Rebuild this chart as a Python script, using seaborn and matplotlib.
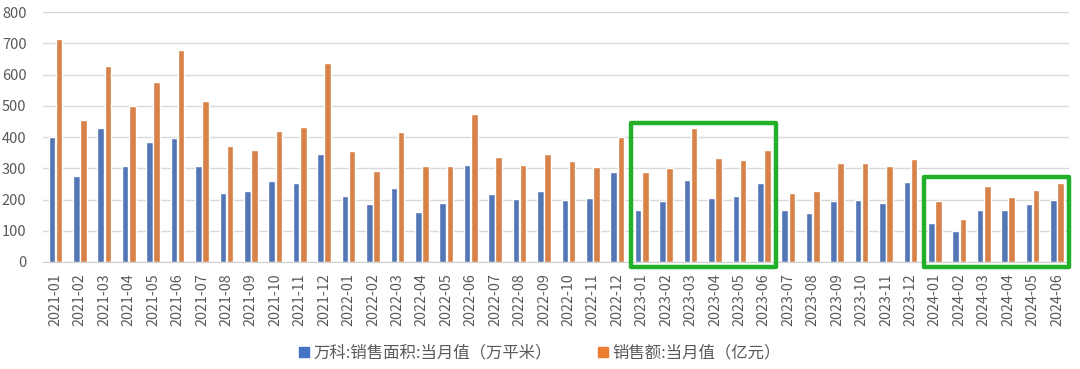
import pandas as pd
import matplotlib.pyplot as plt
import seaborn as sns
from matplotlib.patches import Rectangle
from matplotlib.ticker import FixedLocator

# months 2021-01 .. 2024-06
months = [f"{y}-{m:02d}" for y in (2021, 2022, 2023) for m in range(1, 13)] + \
         [f"2024-{m:02d}" for m in range(1, 7)]

# 万科 monthly sales area (万平米)
area = [400, 275, 430, 308, 383, 396, 308, 220, 228, 258, 252, 347,
        211, 185, 238, 159, 188, 311, 217, 202, 226, 197, 205, 287,
        167, 194, 263, 205, 212, 252, 167, 156, 194, 200, 190, 255,
        124, 98, 165, 165, 185, 197]

# monthly sales amount (亿元)
amount = [715, 454, 628, 499, 576, 678, 515, 371, 360, 418, 432, 638,
          357, 292, 415, 308, 308, 473, 337, 311, 347, 322, 305, 399,
          287, 302, 428, 334, 328, 360, 220, 226, 318, 318, 308, 330,
          194, 138, 243, 208, 231, 252]

label_area = "万科:销售面积:当月值（万平米）"
label_amount = "销售额:当月值（亿元）"

df = pd.DataFrame({
    "month": months * 2,
    "value": area + amount,
    "series": [label_area] * len(months) + [label_amount] * len(months),
})

sns.set_style("white")
plt.rcParams["font.family"] = ["Noto Sans CJK SC", "DejaVu Sans"]

fig = plt.figure(figsize=(10.8, 3.69), dpi=100)
ax = fig.add_axes([0.040, 0.290, 0.950, 0.677])

sns.barplot(data=df, x="month", y="value", hue="series",
            palette=["#4472C4", "#ED7D31"], width=0.58, gap=0.08,
            ax=ax, legend=False)

ax.set_ylim(0, 800)
ax.set_xlim(-0.5, len(months) - 0.5)
ax.set_yticks(range(0, 801, 100))
ax.yaxis.grid(True, color="#d9d9d9", linewidth=1)
ax.set_axisbelow(True)
ax.set_xlabel("")
ax.set_ylabel("")

for s in ["top", "right", "left"]:
    ax.spines[s].set_visible(False)
ax.spines["bottom"].set_color("#d0d0d0")

ax.tick_params(axis="y", length=0, labelsize=10.5, colors="#595959", pad=12)
ax.tick_params(axis="x", which="major", length=0, labelsize=10.3,
               colors="#595959", rotation=90, pad=8)
ax.xaxis.set_minor_locator(FixedLocator([i - 0.5 for i in range(len(months) + 1)]))
ax.tick_params(axis="x", which="minor", length=5, color="#d0d0d0")

# green highlight boxes
green = "#22B02A"
for x0, x1, top in [(23.57, 29.5, 445), (35.56, 41.5, 271)]:
    ax.add_patch(Rectangle((x0, -16), x1 - x0, top + 16, fill=False,
                           edgecolor=green, linewidth=3.2, joinstyle="round",
                           clip_on=False, zorder=5))

handles = [Rectangle((0, 0), 1, 1, color="#4472C4"),
           Rectangle((0, 0), 1, 1, color="#ED7D31")]
fig.legend(handles, [label_area, label_amount], loc="lower center",
           bbox_to_anchor=(0.5, -0.02), ncol=2, frameon=False,
           handlelength=0.6, handleheight=0.6, handletextpad=0.3,
           columnspacing=2.8, fontsize=11.8, labelcolor="#595959")

plt.savefig("out.png", dpi=100)
